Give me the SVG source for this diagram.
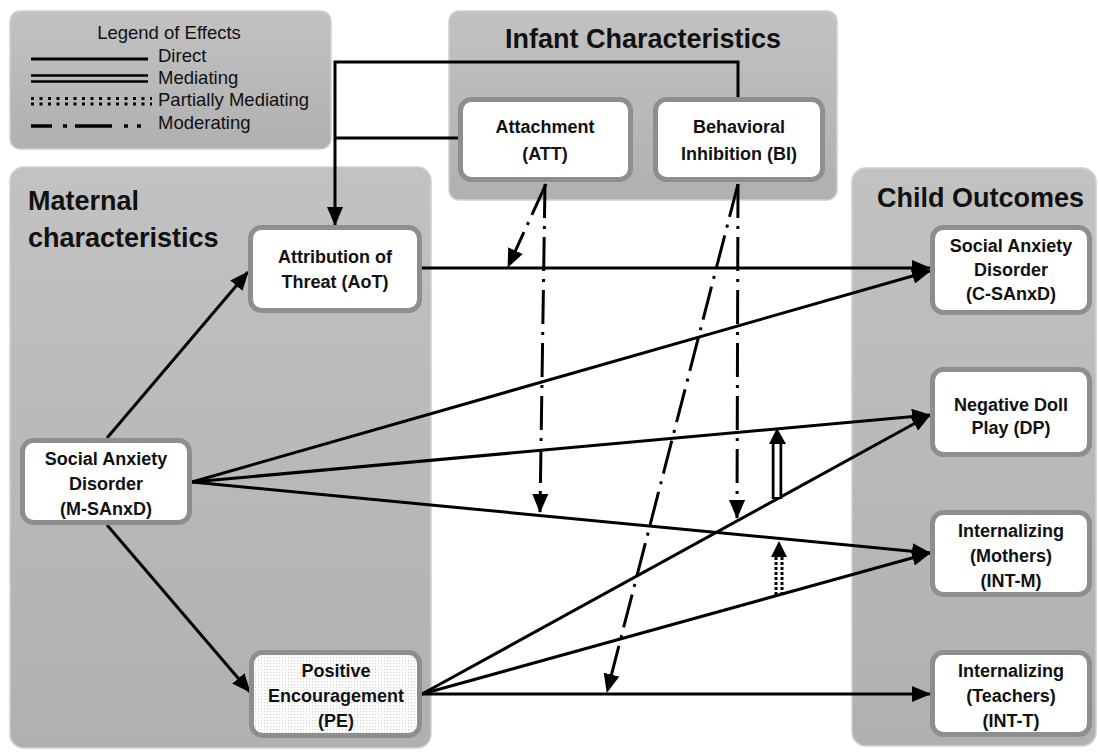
<svg xmlns="http://www.w3.org/2000/svg" width="1098" height="754" viewBox="0 0 1098 754">
<defs>
<linearGradient id="pg" x1="0" y1="0" x2="0" y2="1">
<stop offset="0" stop-color="#c2c2c2"/>
<stop offset="1" stop-color="#b0b0b0"/>
</linearGradient>
<pattern id="dots" width="3" height="3" patternUnits="userSpaceOnUse">
<rect width="3" height="3" fill="#ffffff"/>
<rect x="0" y="0" width="1.2" height="1.2" fill="#d4d4d4"/>
</pattern>
<marker id="ah" markerUnits="userSpaceOnUse" markerWidth="19" markerHeight="16" viewBox="0 0 19 16" refX="18" refY="8" orient="auto">
<path d="M0,0 L19,8 L0,16 z" fill="#000"/>
</marker>
</defs>
<style>
.panel{fill:url(#pg);stroke:#d0d0d0;stroke-width:1.5}
.node{fill:#ffffff;stroke:#8e8e8e;stroke-width:5}
.pe{fill:url(#dots);stroke:#8e8e8e;stroke-width:5}
.nt{font-family:"Liberation Sans",Arial,sans-serif;font-weight:bold;font-size:18px;fill:#111;text-anchor:middle}
.title{font-family:"Liberation Sans",Arial,sans-serif;font-weight:bold;font-size:27px;fill:#111}
.lg{font-family:"Liberation Sans",Arial,sans-serif;font-size:18.5px;fill:#111}
.c{fill:none;stroke:#000;stroke-width:3}
.arr{marker-end:url(#ah)}
.mod{stroke-dasharray:34 8 3 8}
</style>
<rect width="1098" height="754" fill="#ffffff"/>

<g id="legend">
<rect class="panel" x="10" y="11" width="321" height="138" rx="10"/>
<text class="lg" x="169" y="39" text-anchor="middle">Legend of Effects</text>
<line x1="31" y1="59" x2="148" y2="59" stroke="#000" stroke-width="3"/>
<text class="lg" x="158" y="62">Direct</text>
<line x1="31" y1="75.5" x2="148" y2="75.5" stroke="#000" stroke-width="2.5"/>
<line x1="31" y1="81.5" x2="148" y2="81.5" stroke="#000" stroke-width="2.5"/>
<text class="lg" x="158" y="84">Mediating</text>
<line x1="31" y1="98.5" x2="152" y2="98.5" stroke="#000" stroke-width="3" stroke-dasharray="3 5.5"/>
<line x1="31" y1="104" x2="152" y2="104" stroke="#000" stroke-width="3" stroke-dasharray="3 5.5"/>
<text class="lg" x="158" y="106">Partially Mediating</text>
<g stroke="#000" stroke-width="3.5">
<line x1="31" y1="126" x2="52" y2="126"/>
<line x1="63" y1="126" x2="67" y2="126"/>
<line x1="75" y1="126" x2="112" y2="126"/>
<line x1="124" y1="126" x2="128" y2="126"/>
<line x1="137" y1="126" x2="141" y2="126"/>
</g>
<text class="lg" x="158" y="129">Moderating</text>
</g>

<g id="infant-panel">
<rect class="panel" x="449" y="11" width="388" height="189" rx="10"/>
<text class="title" x="643" y="48" text-anchor="middle">Infant Characteristics</text>
</g>
<g id="maternal-panel">
<rect class="panel" x="10" y="167" width="421" height="581" rx="14"/>
<text class="title" x="28" y="210">Maternal</text>
<text class="title" x="28" y="247">characteristics</text>
</g>
<g id="child-panel">
<rect class="panel" x="852" y="168" width="244" height="578" rx="14"/>
<text class="title" x="877" y="207">Child Outcomes</text>
</g>

<g id="connectors">
<polyline class="c" points="738,97 738,62 335,62 335,225" marker-end="url(#ah)"/>
<line class="c" x1="458" y1="138" x2="335" y2="138"/>
<line class="c arr" x1="107" y1="438" x2="248" y2="272"/>
<line class="c arr" x1="107" y1="525" x2="250" y2="692"/>
<line class="c arr" x1="422" y1="268" x2="930" y2="268"/>
<line class="c arr" x1="192" y1="482" x2="930" y2="271"/>
<line class="c arr" x1="192" y1="482" x2="930" y2="415"/>
<line class="c arr" x1="192" y1="482" x2="930" y2="553"/>
<line class="c arr" x1="422" y1="694" x2="930" y2="415"/>
<line class="c arr" x1="422" y1="694" x2="930" y2="553"/>
<line class="c arr" x1="422" y1="694" x2="930" y2="694"/>
<line class="c mod arr" x1="546" y1="184" x2="508" y2="267"/>
<line class="c mod arr" x1="545" y1="184" x2="540" y2="512"/>
<line class="c mod arr" x1="738" y1="184" x2="737" y2="518"/>
<line class="c mod arr" x1="738" y1="184" x2="607" y2="692"/>
<g id="mediating">
<line x1="777" y1="499" x2="777" y2="442" stroke="#000" stroke-width="10.5"/>
<line x1="777" y1="497" x2="777" y2="444" stroke="#fff" stroke-width="5"/>
<polygon points="777,428 769,444 786,444" fill="#000"/>
</g>
<g id="partial">
<line x1="776" y1="595" x2="776" y2="557" stroke="#000" stroke-width="3" stroke-dasharray="3 2"/>
<line x1="782" y1="595" x2="782" y2="557" stroke="#000" stroke-width="3" stroke-dasharray="3 2"/>
<polygon points="779,541 771,557 787,557" fill="#000"/>
</g>
</g>

<g id="node-att">
<rect class="node" x="460.5" y="99.5" width="170" height="80" rx="11"/>
<text class="nt" x="545" y="133">Attachment</text>
<text class="nt" x="545" y="160">(ATT)</text>
</g>
<g id="node-bi">
<rect class="node" x="655.5" y="99.5" width="167" height="80" rx="11"/>
<text class="nt" x="739" y="133">Behavioral</text>
<text class="nt" x="739" y="160">Inhibition (BI)</text>
</g>
<g id="node-aot">
<rect class="node" x="250.5" y="227.5" width="169" height="83" rx="11"/>
<text class="nt" x="335" y="263">Attribution of</text>
<text class="nt" x="335" y="288">Threat (AoT)</text>
</g>
<g id="node-msanxd">
<rect class="node" x="22.5" y="440.5" width="167" height="82" rx="11"/>
<text class="nt" x="106" y="465">Social Anxiety</text>
<text class="nt" x="106" y="490">Disorder</text>
<text class="nt" x="106" y="515">(M-SAnxD)</text>
</g>
<g id="node-pe">
<rect class="pe" x="251.5" y="652.5" width="168" height="83" rx="11"/>
<text class="nt" x="336" y="677">Positive</text>
<text class="nt" x="336" y="702">Encouragement</text>
<text class="nt" x="336" y="727">(PE)</text>
</g>
<g id="node-csanxd">
<rect class="node" x="932.5" y="227.5" width="157" height="85" rx="11"/>
<text class="nt" x="1011" y="252">Social Anxiety</text>
<text class="nt" x="1011" y="276">Disorder</text>
<text class="nt" x="1011" y="300">(C-SAnxD)</text>
</g>
<g id="node-dp">
<rect class="node" x="932.5" y="369.5" width="157" height="85" rx="11"/>
<text class="nt" x="1011" y="411">Negative Doll</text>
<text class="nt" x="1011" y="434">Play (DP)</text>
</g>
<g id="node-intm">
<rect class="node" x="932.5" y="512.5" width="157" height="82" rx="11"/>
<text class="nt" x="1011" y="537">Internalizing</text>
<text class="nt" x="1011" y="562">(Mothers)</text>
<text class="nt" x="1011" y="587">(INT-M)</text>
</g>
<g id="node-intt">
<rect class="node" x="932.5" y="652.5" width="157" height="82" rx="11"/>
<text class="nt" x="1011" y="677">Internalizing</text>
<text class="nt" x="1011" y="702">(Teachers)</text>
<text class="nt" x="1011" y="727">(INT-T)</text>
</g>
</svg>
